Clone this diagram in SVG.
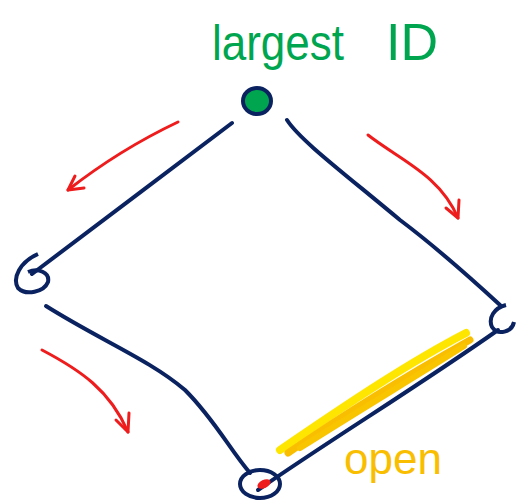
<svg xmlns="http://www.w3.org/2000/svg" width="516" height="504" viewBox="0 0 516 504">
<style>
.edge{fill:none;stroke:#0a2360;stroke-width:4;stroke-linecap:round}
.node{fill:none;stroke:#0a2360;stroke-width:4}
.arrow{fill:none;stroke:#ee1c1c;stroke-width:3;stroke-linecap:round;stroke-linejoin:round}
.hl{fill:none;stroke-linecap:round}
</style>
<rect width="516" height="504" fill="#fff"/>
<g id="connectors">
<path class="edge" d="M232,123 C170,170 90,230 32,274"/>
<path class="edge" d="M287,120 C300,140 340,170 400,220 C440,250 475,282 500,305"/>
<path class="edge" d="M46,306 C100,340 150,360 185,390 C215,420 230,450 250,473"/>
<path class="edge" d="M258,490 C330,440 420,385 498,330"/>
<path class="arrow" d="M178,122 C140,140 100,165 68,190"/>
<path class="arrow" d="M68,190 L84,188 M68,190 L75,176"/>
<path class="arrow" d="M368,135 C400,160 440,175 458,218"/>
<path class="arrow" d="M458,218 L446,208 M458,218 L459,200"/>
<path class="arrow" d="M42,350 C80,370 110,390 128,432"/>
<path class="arrow" d="M128,432 L116,420 M128,432 L129,413"/>
</g>
<g id="highlight">
<path class="hl" stroke="#ffe600" stroke-width="8" d="M280,450 C350,402 410,362 466,333"/>
<path class="hl" stroke="#f9be00" stroke-width="7" d="M288,453 C350,410 420,368 470,340"/>
<path class="hl" stroke="#f9c400" stroke-width="6" d="M300,448 C360,410 420,374 464,346"/>
</g>
<g id="node-top">
<ellipse cx="257" cy="101" rx="14" ry="13" fill="#00a64f" stroke="#0a2360" stroke-width="4"/>
</g>
<g id="node-left">
<path class="node" d="M38,254 C20,262 12,278 18,288 C26,296 44,292 48,282 C50,272 38,268 28,272"/>
</g>
<g id="node-right">
<path class="node" d="M506,305 C494,308 488,318 492,327 C498,336 512,332 514,322"/>
</g>
<g id="node-bottom">
<ellipse cx="260" cy="484" rx="20" ry="14" class="node"/>
<ellipse cx="264" cy="484" rx="7" ry="4" fill="#ee1c1c" transform="rotate(-25 264 484)"/>
</g>
<text x="212" y="60" font-family="Liberation Sans, sans-serif" font-size="50" fill="#00a64f" textLength="132" lengthAdjust="spacingAndGlyphs">largest</text>
<text x="386" y="60" font-family="Liberation Sans, sans-serif" font-size="52" fill="#00a64f">ID</text>
<text x="344" y="474" font-family="Liberation Sans, sans-serif" font-size="44" fill="#f9be00">open</text>
</svg>
